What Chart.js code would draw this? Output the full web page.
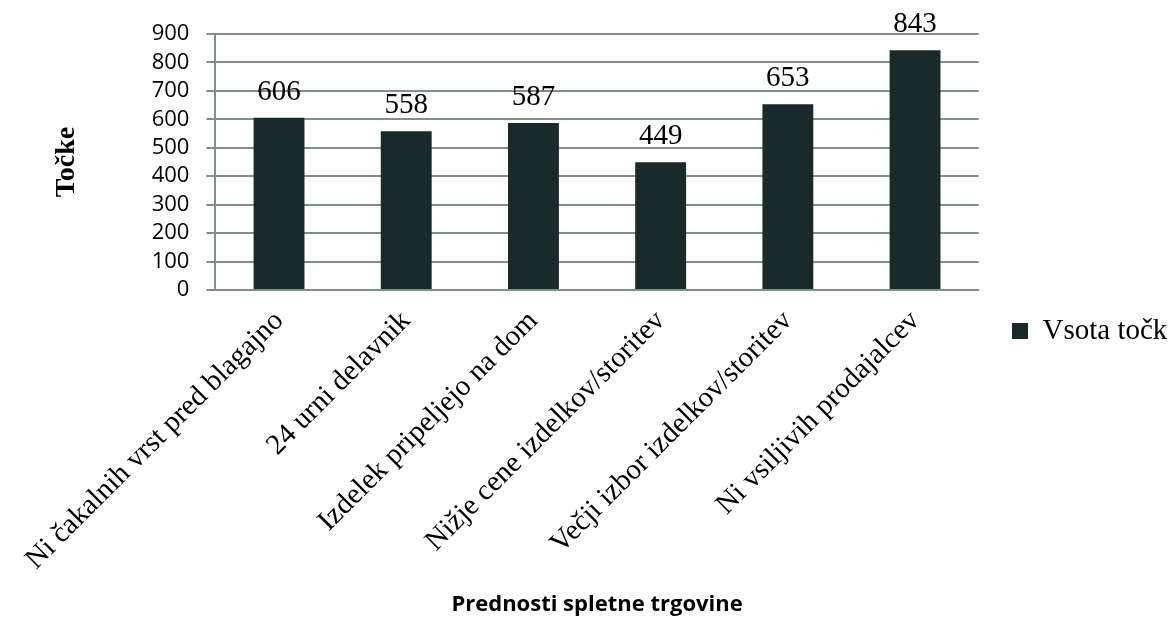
<!DOCTYPE html>
<html>
<head>
<meta charset="utf-8">
<script src="https://cdn.jsdelivr.net/npm/chart.js@4/dist/chart.umd.min.js"></script>
<style>
html,body{margin:0;padding:0;background:#fff;}
#c{display:block;}
</style>
</head>
<body>
<canvas id="c" width="1170" height="618"></canvas>
<script>
const categories = [
  "Ni čakalnih vrst pred blagajno",
  "24 urni delavnik",
  "Izdelek pripeljejo na dom",
  "Nižje cene izdelkov/storitev",
  "Večji izbor izdelkov/storitev",
  "Ni vsiljivih prodajalcev"
];
const seriesName = "Vsota točk";
const values = [606, 558, 587, 449, 653, 843];
const yTicks = [0, 100, 200, 300, 400, 500, 600, 700, 800, 900];
const xTitle = "Prednosti spletne trgovine";
const yTitle = "Točke";

const SERIF = "'Liberation Serif', 'Times New Roman', serif";
const SANS = "'Open Sans', 'Liberation Sans', sans-serif";
const BAR = '#1a292a';
const GRID = '#7d8f8f';

const valueLabels = {
  id: 'valueLabels',
  afterDatasetsDraw(chart) {
    const ctx = chart.ctx;
    const meta = chart.getDatasetMeta(0);
    ctx.save();
    ctx.font = '29px ' + SERIF;
    ctx.fillStyle = '#000';
    ctx.textAlign = 'center';
    ctx.textBaseline = 'alphabetic';
    meta.data.forEach((el, i) => {
      ctx.fillText(String(chart.data.datasets[0].data[i]), el.x, el.y - 18);
    });
    ctx.restore();
  }
};

const legendShift = {
  id: 'legendShift',
  afterLayout(chart) {
    const lg = chart.legend;
    if (!lg) return;
    const pad = lg.options.labels.padding;
    const dx = 1012 - (lg.left + pad);
    const dy = 331 - (lg.top + lg.bottom) / 2;
    lg.left += dx; lg.right += dx;
    lg.top += dy; lg.bottom += dy;
  }
};

new Chart(document.getElementById('c'), {
  type: 'bar',
  data: {
    labels: categories,
    datasets: [{
      label: seriesName,
      data: values,
      backgroundColor: BAR,
      borderWidth: 0,
      barPercentage: 0.4,
      categoryPercentage: 1.0
    }]
  },
  options: {
    responsive: false,
    animation: false,
    devicePixelRatio: 1,
    layout: { padding: { top: 34, right: 0, bottom: 0, left: 0 } },
    plugins: {
      tooltip: { enabled: false },
      legend: {
        display: true,
        position: 'right',
        align: 'center',
        labels: {
          font: { family: SERIF, size: 29 },
          color: '#000',
          boxWidth: 16,
          boxHeight: 16,
          padding: 26
        }
      }
    },
    scales: {
      x: {
        grid: { display: false, drawTicks: false },
        border: { display: true, color: GRID, width: 2 },
        ticks: {
          autoSkip: false,
          maxRotation: 45,
          minRotation: 45,
          padding: 14,
          color: '#000',
          font: { family: SERIF, size: 29 }
        },
        title: {
          display: true,
          text: xTitle,
          color: '#000',
          font: { family: SANS, size: 22, weight: 'bold' },
          padding: { top: 0, bottom: 0 }
        },
        afterFit(scale) { scale.height = 328; }
      },
      y: {
        min: 0,
        max: 900,
        afterBuildTicks(scale) { scale.ticks = yTicks.map(v => ({ value: v })); },
        grid: { color: GRID, lineWidth: 2, drawTicks: true, tickLength: 9, tickColor: GRID },
        border: { display: true, color: GRID, width: 2 },
        ticks: {
          autoSkip: false,
          padding: 17,
          color: '#000',
          font: { family: SANS, size: 22 }
        },
        title: {
          display: true,
          text: yTitle,
          color: '#000',
          font: { family: SERIF, size: 28, weight: 'bold' },
          padding: { top: 36, bottom: 0 }
        },
        afterFit(scale) { scale.width = 201; }
      }
    }
  },
  plugins: [valueLabels, legendShift]
});
</script>
</body>
</html>
